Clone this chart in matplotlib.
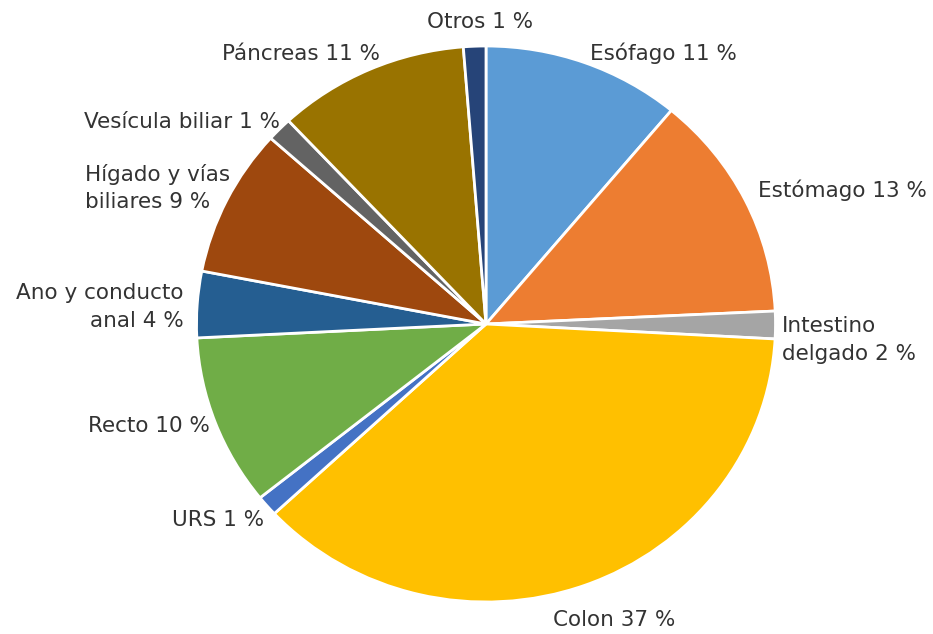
import matplotlib.pyplot as plt

# Localización de los tumores digestivos (porcentaje)
labels = ['Esófago', 'Estómago', 'Intestino\ndelgado', 'Colon', 'URS', 'Recto',
          'Ano y conducto\nanal', 'Hígado y vías\nbiliares', 'Vesícula biliar',
          'Páncreas', 'Otros']
values = [11.06, 13.2, 1.6, 37.2, 1.2, 9.95, 3.85, 8.6, 1.4, 10.7, 1.25]
colors = ['#5B9BD5', '#ED7D31', '#A5A5A5', '#FFC000', '#4472C4', '#70AD47',
          '#255E91', '#9E480E', '#636363', '#997300', '#264478']

W, H = 933, 634
# pie centre and radii in pixels (the original image is slightly stretched)
cx, cy, rx, ry = 486, 324, 289.5, 278

# label layout in pixels: anchor x, centre y, horizontal alignment
label_px = [(663, 53, 'center'), (842, 190, 'center'), (782, 340, 'left'),
            (614, 620, 'center'), (218, 520, 'center'), (149, 426, 'center'),
            (184, 307, 'right'), (85, 188, 'left'), (182, 122, 'center'),
            (301, 54, 'center'), (480, 22, 'center')]

fig = plt.figure(figsize=(W / 100, H / 100), dpi=100)
ax = fig.add_axes([0, 0, 1, 1])

ax.pie(values, colors=colors, startangle=90, counterclock=False, radius=1,
       wedgeprops=dict(edgecolor='white', linewidth=2))
ax.set_aspect('auto')
ax.set_xlim(-cx / rx, (W - cx) / rx)
ax.set_ylim(-(H - cy) / ry, cy / ry)
ax.axis('off')

total = sum(values)
for name, v, (px, py, al) in zip(labels, values, label_px):
    ax.text((px - cx) / rx, (cy - py) / ry, f'{name} {round(v / total * 100)} %',
            ha=al, va='center', multialignment=al, fontsize=15.5,
            color='#333333', linespacing=1.45)

fig.savefig('out.png', dpi=100)
